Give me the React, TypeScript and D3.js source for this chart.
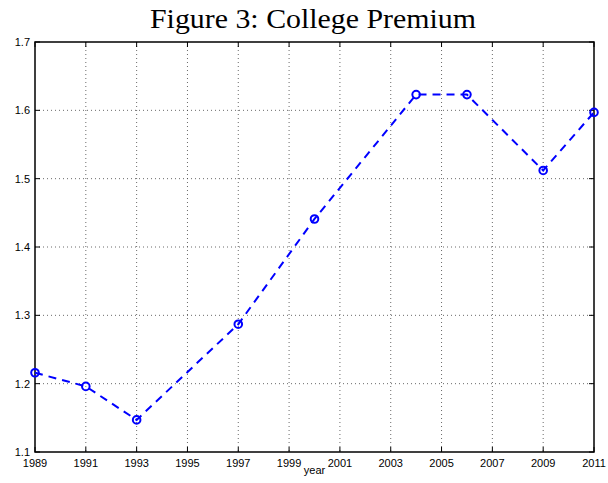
import { useEffect, useRef } from "react"
import * as d3 from "d3"

// data
const years = [1989, 1991, 1993, 1997, 2000, 2004, 2006, 2009, 2011]
const premium = [1.216, 1.196, 1.147, 1.287, 1.441, 1.623, 1.623, 1.512, 1.597]
const xTicks = [1989, 1991, 1993, 1995, 1997, 1999, 2001, 2003, 2005, 2007, 2009, 2011]
const yTicks = [1.1, 1.2, 1.3, 1.4, 1.5, 1.6, 1.7]

const App = () => {
  const svgRef = useRef<SVGSVGElement | null>(null)

  useEffect(() => {
    if (!svgRef.current) return
    const svg = d3.select(svgRef.current)
    svg.selectAll("*").remove()

    const margin = { top: 42, right: 14, bottom: 31, left: 35 }
    const width = 608
    const height = 483
    const innerWidth = width - margin.left - margin.right
    const innerHeight = height - margin.top - margin.bottom

    const x = d3.scaleLinear().domain([1989, 2011]).range([0, innerWidth])
    const y = d3.scaleLinear().domain([1.1, 1.7]).range([innerHeight, 0])

    // title
    svg
      .append("text")
      .attr("x", 150)
      .attr("y", 28)
      .attr("text-anchor", "start")
      .attr("font-family", "'Liberation Serif', 'Times New Roman', serif")
      .attr("font-size", "28px")
      .attr("textLength", 326)
      .attr("lengthAdjust", "spacingAndGlyphs")
      .attr("fill", "#000")
      .text("Figure 3:  College Premium")

    const g = svg.append("g").attr("transform", `translate(${margin.left},${margin.top})`)

    // grid
    g.selectAll(".vgrid")
      .data(xTicks.slice(1, -1))
      .join("line")
      .attr("x1", (d) => x(d))
      .attr("x2", (d) => x(d))
      .attr("y1", 0)
      .attr("y2", innerHeight)
      .attr("stroke", "#444")
      .attr("stroke-width", 0.8)
      .attr("stroke-dasharray", "1,3")

    g.selectAll(".hgrid")
      .data(yTicks.slice(1, -1))
      .join("line")
      .attr("x1", 0)
      .attr("x2", innerWidth)
      .attr("y1", (d) => y(d))
      .attr("y2", (d) => y(d))
      .attr("stroke", "#444")
      .attr("stroke-width", 0.8)
      .attr("stroke-dasharray", "1,3")

    // inward ticks on all four sides
    const tickLen = 5
    xTicks.forEach((t) => {
      g.append("line").attr("x1", x(t)).attr("x2", x(t)).attr("y1", innerHeight).attr("y2", innerHeight - tickLen).attr("stroke", "#000")
      g.append("line").attr("x1", x(t)).attr("x2", x(t)).attr("y1", 0).attr("y2", tickLen).attr("stroke", "#000")
    })
    yTicks.forEach((t) => {
      g.append("line").attr("x1", 0).attr("x2", tickLen).attr("y1", y(t)).attr("y2", y(t)).attr("stroke", "#000")
      g.append("line").attr("x1", innerWidth).attr("x2", innerWidth - tickLen).attr("y1", y(t)).attr("y2", y(t)).attr("stroke", "#000")
    })

    // box
    g.append("rect")
      .attr("width", innerWidth)
      .attr("height", innerHeight)
      .attr("fill", "none")
      .attr("stroke", "#000")
      .attr("stroke-width", 1.5)

    // tick labels
    g.selectAll(".xlabel")
      .data(xTicks)
      .join("text")
      .attr("x", (d) => x(d))
      .attr("y", innerHeight + 15)
      .attr("text-anchor", "middle")
      .attr("font-family", "'Liberation Sans', Arial, sans-serif")
      .attr("font-size", "11px")
      .text((d) => d)

    g.selectAll(".ylabel")
      .data(yTicks)
      .join("text")
      .attr("x", -5)
      .attr("y", (d) => y(d))
      .attr("dy", "0.35em")
      .attr("text-anchor", "end")
      .attr("font-family", "'Liberation Sans', Arial, sans-serif")
      .attr("font-size", "11px")
      .text((d) => d.toFixed(1))

    g.append("text")
      .attr("x", innerWidth / 2)
      .attr("y", innerHeight + 22)
      .attr("text-anchor", "middle")
      .attr("font-family", "'Liberation Sans', Arial, sans-serif")
      .attr("font-size", "11px")
      .text("year")

    const data = years.map((yr, i) => ({ year: yr, value: premium[i] }))

    const line = d3
      .line<{ year: number; value: number }>()
      .x((d) => x(d.year))
      .y((d) => y(d.value))

    g.append("path")
      .datum(data)
      .attr("d", line)
      .attr("fill", "none")
      .attr("stroke", "#0000ff")
      .attr("stroke-width", 2)
      .attr("stroke-dasharray", "8,6")

    g.selectAll(".pt")
      .data(data)
      .join("circle")
      .attr("cx", (d) => x(d.year))
      .attr("cy", (d) => y(d.value))
      .attr("r", 3.8)
      .attr("fill", "none")
      .attr("stroke", "#0000ff")
      .attr("stroke-width", 2)
  }, [])

  return (
    <div style={{ position: "absolute", left: 0, top: 0 }}>
      <svg ref={svgRef} width={608} height={483} style={{ display: "block", background: "#fff" }} />
    </div>
  )
}

export default App
